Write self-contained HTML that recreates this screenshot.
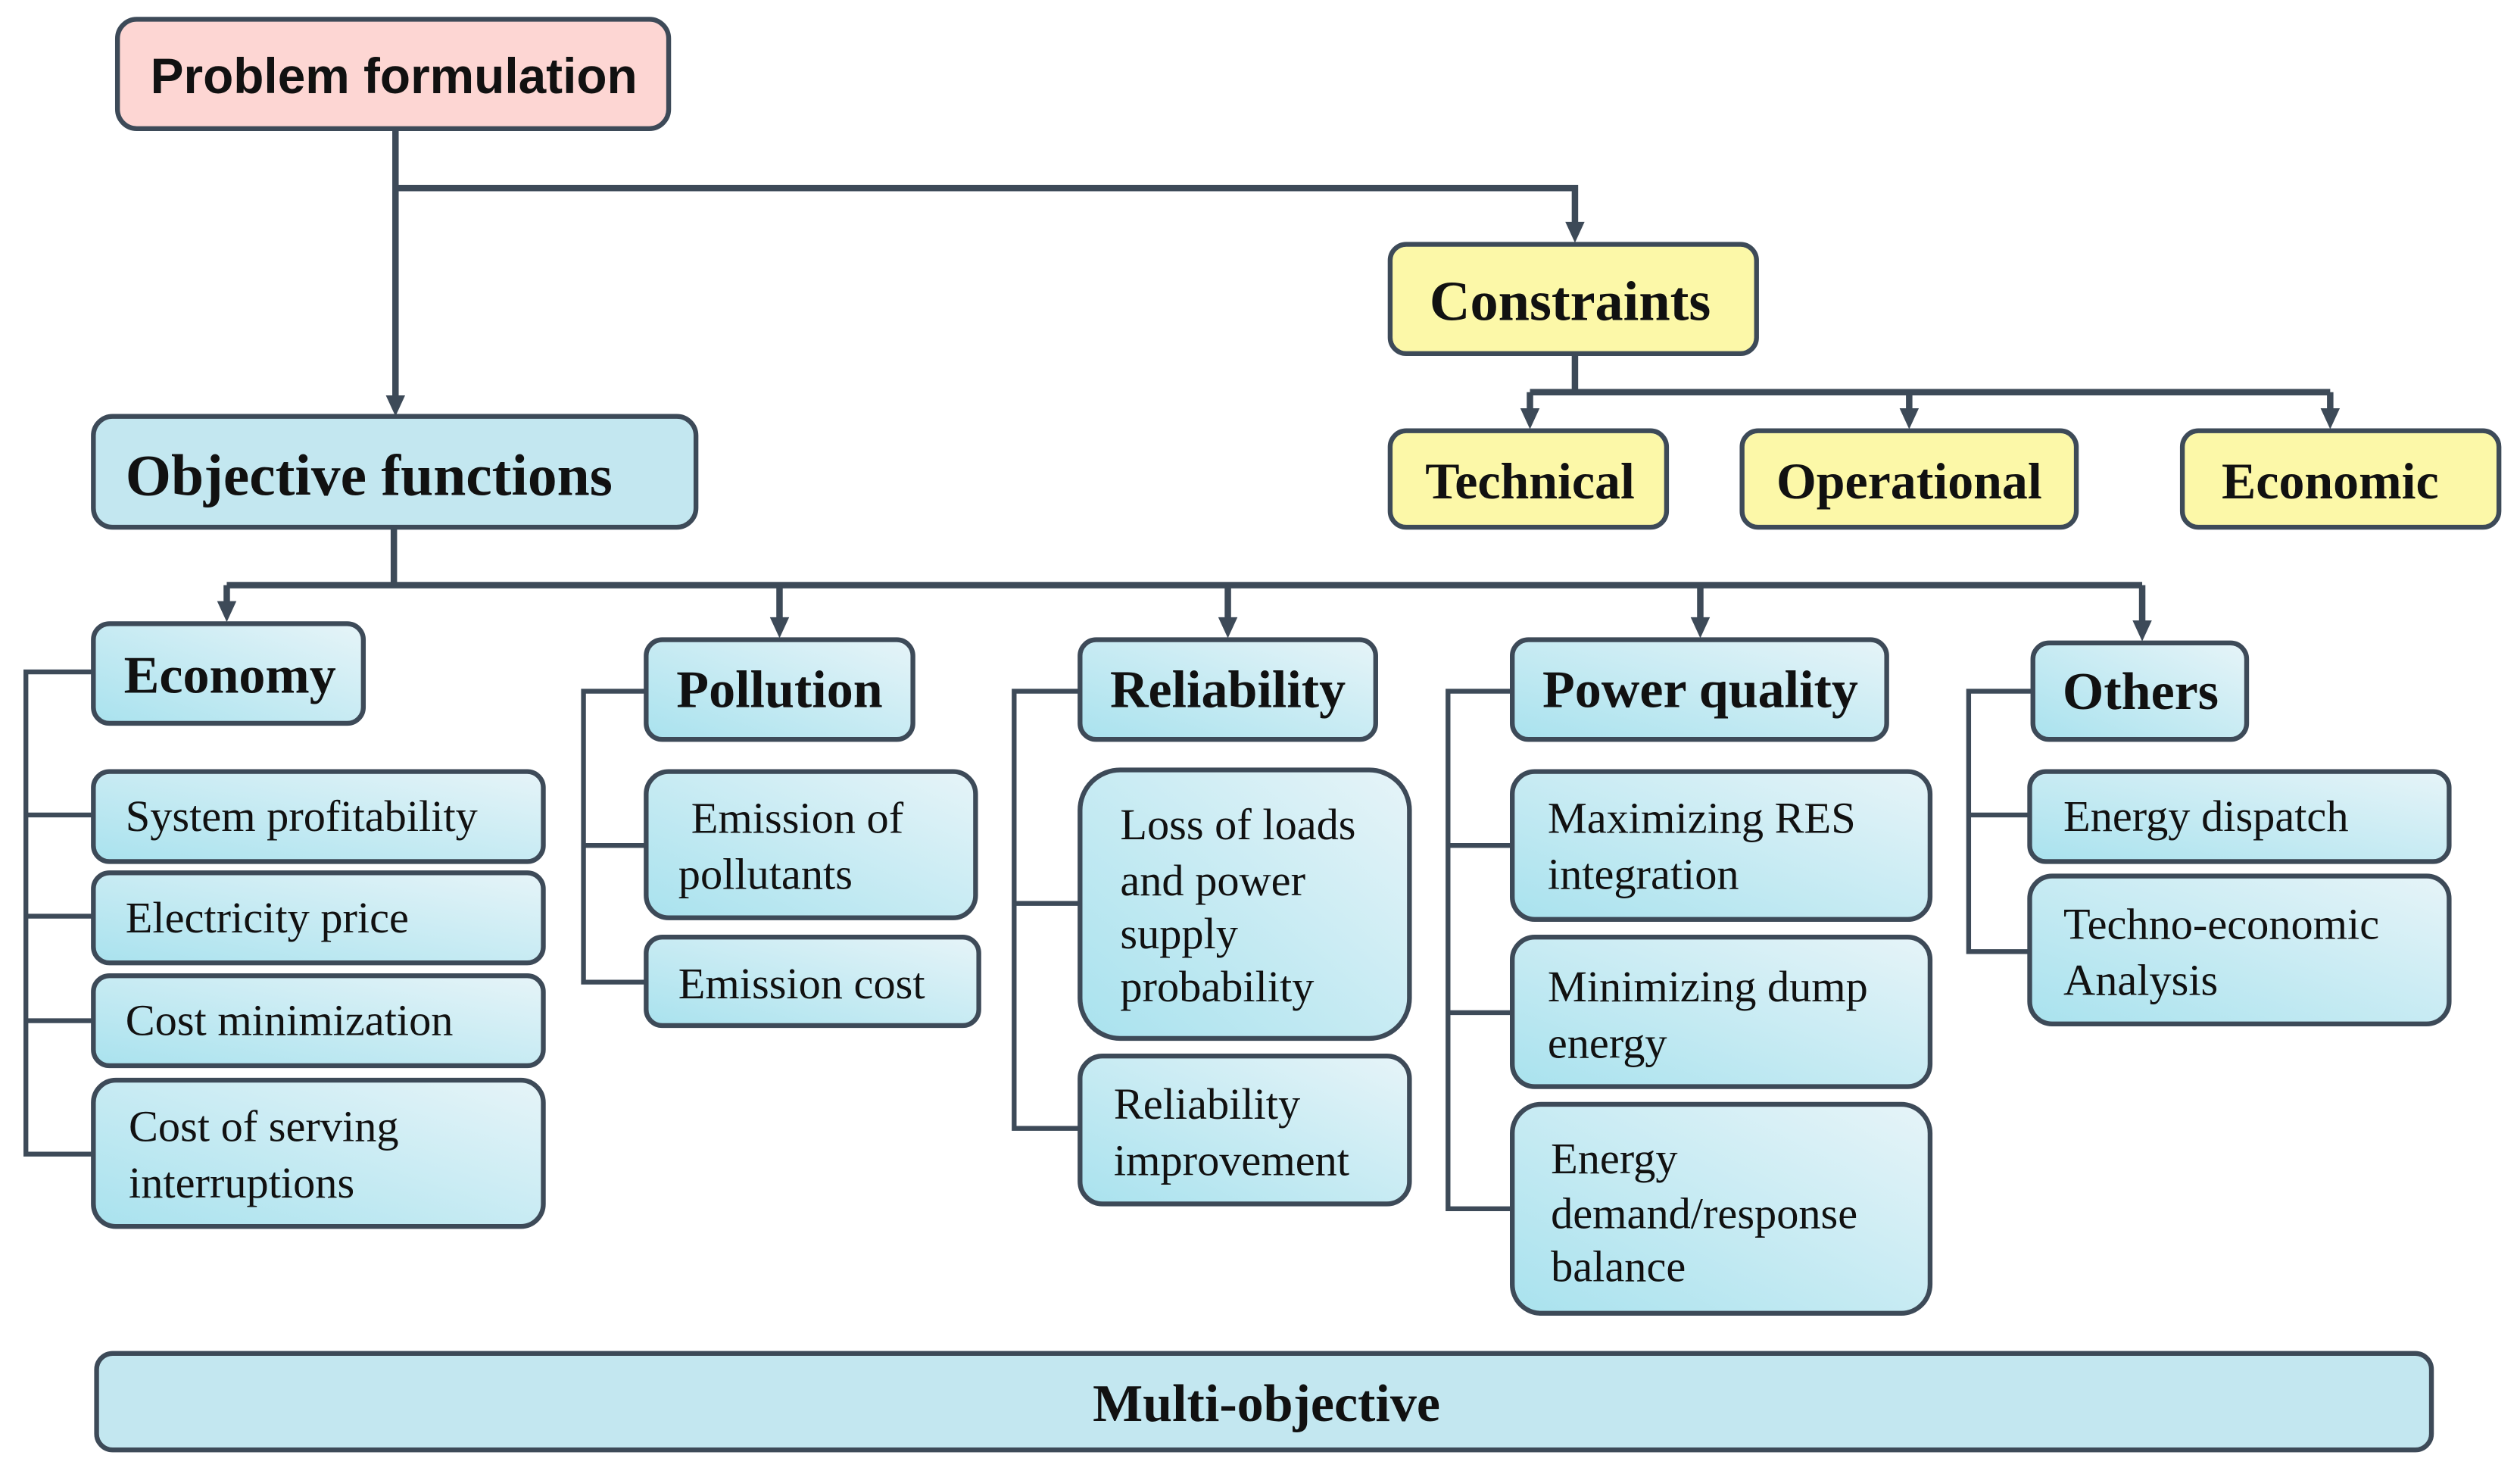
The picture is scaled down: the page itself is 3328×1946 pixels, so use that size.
<!DOCTYPE html>
<html><head><meta charset="utf-8"><style>html,body{margin:0;padding:0;background:#fff}svg{display:block}</style></head>
<body>
<svg xmlns="http://www.w3.org/2000/svg" width="3328" height="1946" viewBox="0 0 1568 917">
<defs>
<linearGradient id="g" x1="0" y1="1" x2="1" y2="0">
<stop offset="0" stop-color="#a9e2ee"/><stop offset="1" stop-color="#e6f4f8"/>
</linearGradient>
</defs>
<g fill="none" stroke="#3d4a58" stroke-width="4">
<path d="M246,80 V250"/>
<path d="M246,117 H980 V142"/>
<path d="M980,220 V244 M952,244 H1450"/>
<path d="M952,244 V258 M1188,244 V258 M1450,244 V258"/>
<path d="M245,328 V364 M141,364 H1333"/>
<path d="M141,364 V378 M485,364 V388 M764,364 V388 M1058,364 V388 M1333,364 V390"/>
<g stroke-width="3">
<path d="M58,418 H16 V718 H58 M16,507 H58 M16,570 H58 M16,635 H58"/>
<path d="M402,430 H363 V611 H402 M363,526 H402"/>
<path d="M672,430 H631 V702 H672 M631,562 H672"/>
<path d="M941,430 H901 V752 H941 M901,526 H941 M901,630 H941"/>
<path d="M1265,430 H1225 V592 H1263 M1225,507 H1263"/>
</g>
</g>
<g fill="#3d4a58">
<path d="M240,246 H252 L246,259 Z"/>
<path d="M974,138 H986 L980,151 Z"/>
<path d="M946,254 H958 L952,267 Z"/>
<path d="M1182,254 H1194 L1188,267 Z"/>
<path d="M1444,254 H1456 L1450,267 Z"/>
<path d="M135,374 H147 L141,387 Z"/>
<path d="M479,384 H491 L485,397 Z"/>
<path d="M758,384 H770 L764,397 Z"/>
<path d="M1052,384 H1064 L1058,397 Z"/>
<path d="M1327,386 H1339 L1333,399 Z"/>
</g>
<g stroke="#3d4a58" stroke-width="3">
<rect x="73" y="12" width="343" height="68" rx="12" fill="#fdd6d3"/>
<rect x="865" y="152" width="228" height="68" rx="10" fill="#fcf8a8"/>
<rect x="865" y="268" width="172" height="60" rx="10" fill="#fcf8a8"/>
<rect x="1084" y="268" width="208" height="60" rx="10" fill="#fcf8a8"/>
<rect x="1358" y="268" width="197" height="60" rx="10" fill="#fcf8a8"/>
<rect x="58" y="259" width="375" height="69" rx="12" fill="#c3e7f0"/>
<rect x="60" y="842" width="1453" height="60" rx="10" fill="#c3e7f0"/>
<g fill="url(#g)">
<rect x="58" y="388" width="168" height="62" rx="10"/>
<rect x="402" y="398" width="166" height="62" rx="10"/>
<rect x="672" y="398" width="184" height="62" rx="10"/>
<rect x="941" y="398" width="233" height="62" rx="10"/>
<rect x="1265" y="400" width="133" height="60" rx="10"/>
<rect x="58" y="480" width="280" height="56" rx="10"/>
<rect x="58" y="543" width="280" height="56" rx="10"/>
<rect x="58" y="607" width="280" height="56" rx="10"/>
<rect x="58" y="672" width="280" height="91" rx="14"/>
<rect x="402" y="480" width="205" height="91" rx="14"/>
<rect x="402" y="583" width="207" height="55" rx="10"/>
<rect x="672" y="479" width="205" height="167" rx="25"/>
<rect x="672" y="657" width="205" height="92" rx="14"/>
<rect x="941" y="480" width="260" height="92" rx="14"/>
<rect x="941" y="583" width="260" height="93" rx="14"/>
<rect x="941" y="687" width="260" height="130" rx="18"/>
<rect x="1263" y="480" width="261" height="56" rx="10"/>
<rect x="1263" y="545" width="261" height="92" rx="14"/>
</g>
</g>
<g font-family="'Liberation Serif', serif" fill="#111">
<text x="245" y="58" font-family="'Liberation Sans', sans-serif" font-weight="bold" font-size="31" text-anchor="middle">Problem formulation</text>
<g font-weight="bold" text-anchor="middle">
<text x="977" y="199" font-size="35">Constraints</text>
<text x="952" y="310" font-size="32">Technical</text>
<text x="1188" y="310" font-size="32">Operational</text>
<text x="1450" y="310" font-size="32">Economic</text>
<text x="788" y="884" font-size="33">Multi-objective</text>
<text x="143" y="431" font-size="33">Economy</text>
<text x="485" y="440" font-size="33">Pollution</text>
<text x="764" y="440" font-size="33">Reliability</text>
<text x="1058" y="440" font-size="33">Power quality</text>
<text x="1332" y="441" font-size="33">Others</text>
</g>
<text x="78" y="308" font-weight="bold" font-size="36.5">Objective functions</text>
<g font-size="27.5">
<text x="78" y="517">System profitability</text>
<text x="78" y="580">Electricity price</text>
<text x="78" y="644">Cost minimization</text>
<text x="80" y="710">Cost of serving</text>
<text x="80" y="745">interruptions</text>
<text x="430" y="518">Emission of</text>
<text x="422" y="553">pollutants</text>
<text x="422" y="621">Emission cost</text>
<text x="697" y="522">Loss of loads</text>
<text x="697" y="557">and power</text>
<text x="697" y="590">supply</text>
<text x="697" y="623">probability</text>
<text x="693" y="696">Reliability</text>
<text x="693" y="731">improvement</text>
<text x="963" y="518">Maximizing RES</text>
<text x="963" y="553">integration</text>
<text x="963" y="623">Minimizing dump</text>
<text x="963" y="658">energy</text>
<text x="965" y="730">Energy</text>
<text x="965" y="764">demand/response</text>
<text x="965" y="797">balance</text>
<text x="1284" y="517">Energy dispatch</text>
<text x="1284" y="584">Techno-economic</text>
<text x="1284" y="619">Analysis</text>
</g>
</g>
</svg>
</body></html>
